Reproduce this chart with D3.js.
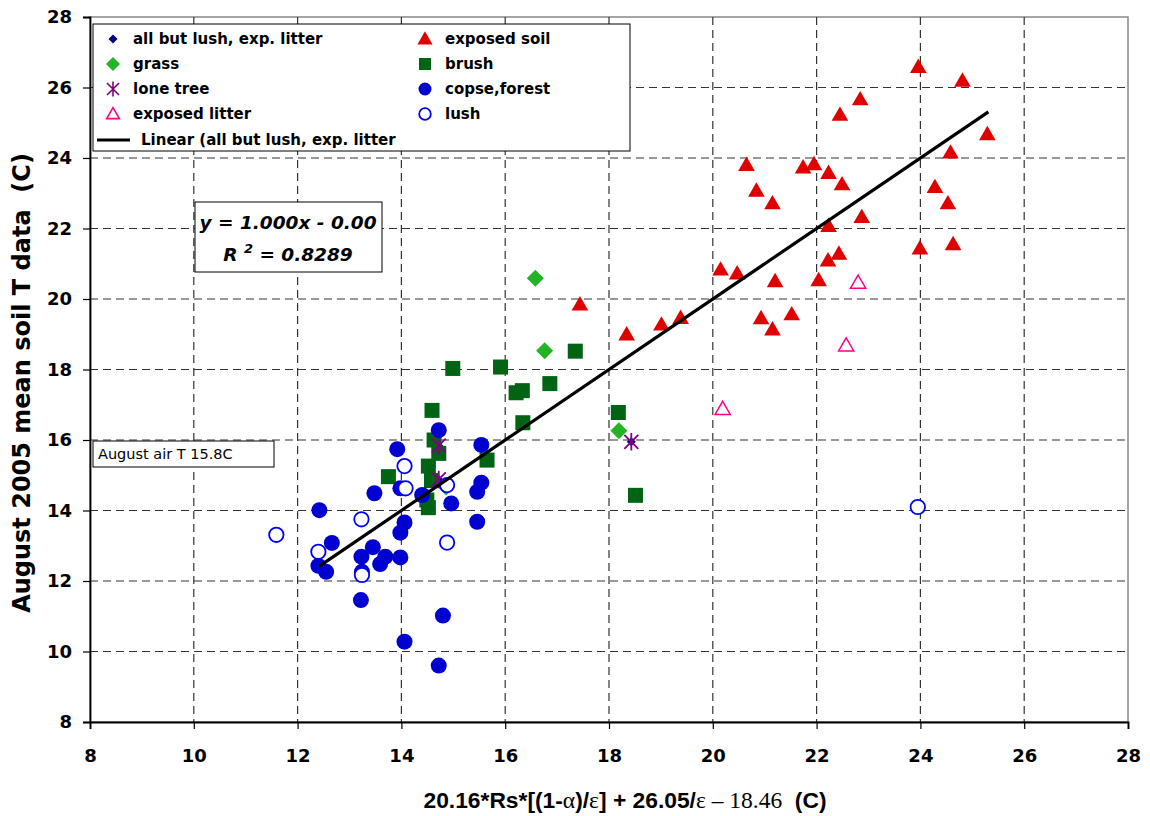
<!DOCTYPE html>
<html><head><meta charset="utf-8">
<script src="https://cdn.jsdelivr.net/npm/d3@7"></script>
<style>body{margin:0;background:#fff}</style></head>
<body>
<script>
// ---------- data ----------
const xTicks = [8,10,12,14,16,18,20,22,24,26,28];
const yTicks = [8,10,12,14,16,18,20,22,24,26,28];

const exposedSoil = [
 [23.96,26.55],[24.81,26.16],[22.84,25.63],[22.45,25.19],[25.29,24.64],[24.58,24.12],
 [20.65,23.77],[21.74,23.70],[21.95,23.79],[22.23,23.54],[22.49,23.22],[20.84,23.04],
 [21.15,22.68],[24.28,23.14],[24.53,22.68],[22.87,22.29],[22.23,22.04],[23.99,21.40],
 [24.63,21.52],[22.43,21.25],[22.22,21.06],[20.15,20.80],[20.47,20.69],[21.20,20.47],
 [22.04,20.50],[20.93,19.42],[21.15,19.10],[21.52,19.53],[19.38,19.43],[17.44,19.81],
 [18.34,18.96],[19.01,19.24]
];
const grass = [[16.58,20.59],[16.76,18.53],[18.19,16.26],[14.86,14.67]];
const brush = [
 [14.99,18.03],[15.91,18.07],[17.35,18.52],[16.21,17.34],[16.33,17.40],[16.86,17.60],
 [16.34,16.49],[18.18,16.78],[14.59,16.84],[15.65,15.43],[13.75,14.96],[14.52,15.26],
 [18.51,14.43],[14.63,16.00],[14.72,15.62],[14.58,14.85],[14.49,14.30],[14.52,14.08]
];
const loneTree = [[18.43,15.95],[14.72,15.84],[14.72,14.88]];
const copse = [
 [14.72,16.28],[13.92,15.74],[15.54,15.86],[13.98,14.63],[13.48,14.49],[14.40,14.44],
 [12.42,14.01],[14.96,14.20],[15.54,14.79],[15.46,14.53],[15.46,13.68],[14.06,13.66],
 [13.98,13.37],[12.66,13.08],[13.45,12.96],[13.23,12.69],[13.69,12.69],[13.59,12.48],
 [13.98,12.67],[12.40,12.43],[12.55,12.26],[13.24,12.26],[13.22,11.46],[14.80,11.02],
 [14.06,10.28],[14.72,9.60]
];
const exposedLitter = [[22.80,20.43],[22.57,18.65],[20.19,16.85]];
const lush = [
 [11.59,13.31],[12.40,12.83],[13.23,13.75],[13.24,12.17],[14.88,13.09],[14.06,15.26],
 [14.08,14.63],[14.88,14.72],[23.95,14.10]
];
const allButLush = [].concat(exposedSoil, grass, brush, loneTree, copse);
const trendX = [12.42, 25.31];
const slope = 1.000, intercept = 0.00;

// ---------- chart ----------
const W = 1150, H = 816;
const svg = d3.select("body").append("svg").attr("width", W).attr("height", H)
  .style("background", "#fff");
const x = d3.scaleLinear().domain([8,28]).range([90,1128]);
const y = d3.scaleLinear().domain([8,28]).range([722,17]);

const C = {soil:"#e00000", grass:"#22b422", brush:"#006414", tree:"#800080",
           copse:"#0000d0", litter:"#ff0088", lush:"#0000ff", allbut:"#000080"};

// plot border
svg.append("rect").attr("x", x(8)).attr("y", y(28)).attr("width", x(28)-x(8))
  .attr("height", y(8)-y(28)).attr("fill","none").attr("stroke","#888").attr("stroke-width",1.5);

// grid
const grid = svg.append("g").attr("stroke","#333").attr("stroke-width",1.2).attr("stroke-dasharray","8,5");
grid.selectAll("line.v").data(xTicks.filter(t=>t>8 && t<28)).join("line")
  .attr("x1",d=>x(d)).attr("x2",d=>x(d)).attr("y1",y(28)).attr("y2",y(8));
grid.selectAll("line.h").data(yTicks.filter(t=>t>8 && t<28)).join("line")
  .attr("y1",d=>y(d)).attr("y2",d=>y(d)).attr("x1",x(8)).attr("x2",x(28));

// axes
const fontB = "'DejaVu Sans', Verdana, sans-serif";
const xAxis = svg.append("g").attr("transform",`translate(0,${y(8)})`)
  .call(d3.axisBottom(x).tickValues(xTicks).tickSize(7).tickPadding(20).tickFormat(d3.format("d")));
const yAxis = svg.append("g").attr("transform",`translate(${x(8)},0)`)
  .call(d3.axisLeft(y).tickValues(yTicks).tickSize(7).tickPadding(11).tickFormat(d3.format("d")));
[xAxis,yAxis].forEach(a=>{
  a.select(".domain").attr("stroke","#000").attr("stroke-width",1.8);
  a.selectAll(".tick line").attr("stroke","#000").attr("stroke-width",1.2);
  a.selectAll(".tick text").attr("font-family",fontB).attr("font-weight","bold")
    .attr("font-size",18).attr("fill","#000");
});

// markers
const gM = svg.append("g");
const diamond = s => `M0,${-s}L${s},0L0,${s}L${-s},0Z`;
gM.selectAll("path.ab").data(allButLush).join("path")
  .attr("d", diamond(4.5)).attr("fill",C.allbut)
  .attr("transform",d=>`translate(${x(d[0])},${y(d[1])})`);
const tri = d3.symbol().type(d3.symbolTriangle).size(120);
gM.selectAll("path.soil").data(exposedSoil).join("path")
  .attr("d", tri()).attr("fill",C.soil)
  .attr("transform",d=>`translate(${x(d[0])},${y(d[1])})`);
gM.selectAll("path.grass").data(grass).join("path")
  .attr("d", diamond(8.5)).attr("fill",C.grass)
  .attr("transform",d=>`translate(${x(d[0])},${y(d[1])})`);
gM.selectAll("rect.brush").data(brush).join("rect")
  .attr("x",d=>x(d[0])-7.5).attr("y",d=>y(d[1])-7.5).attr("width",15).attr("height",15)
  .attr("fill",C.brush);
const star = s => `M${-s},${-s}L${s},${s}M${-s},${s}L${s},${-s}M0,${-s*1.25}L0,${s*1.25}`;
gM.selectAll("path.tree").data(loneTree).join("path")
  .attr("d", star(7)).attr("stroke",C.tree).attr("stroke-width",1.8).attr("fill","none")
  .attr("transform",d=>`translate(${x(d[0])},${y(d[1])})`);
gM.selectAll("circle.copse").data(copse).join("circle")
  .attr("cx",d=>x(d[0])).attr("cy",d=>y(d[1])).attr("r",8).attr("fill",C.copse);
const triO = d3.symbol().type(d3.symbolTriangle).size(100);
gM.selectAll("path.litter").data(exposedLitter).join("path")
  .attr("d", triO()).attr("fill","#fff").attr("stroke",C.litter).attr("stroke-width",1.5)
  .attr("transform",d=>`translate(${x(d[0])},${y(d[1])})`);
gM.selectAll("circle.lush").data(lush).join("circle")
  .attr("cx",d=>x(d[0])).attr("cy",d=>y(d[1])).attr("r",7.2)
  .attr("fill","#fff").attr("stroke",C.lush).attr("stroke-width",1.8);

// trend line
svg.append("line")
  .attr("x1",x(trendX[0])).attr("y1",y(slope*trendX[0]+intercept))
  .attr("x2",x(trendX[1])).attr("y2",y(slope*trendX[1]+intercept))
  .attr("stroke","#000").attr("stroke-width",3.2);

// axis titles
svg.append("text").attr("transform",`translate(30,383) rotate(-90)`).attr("text-anchor","middle")
  .attr("font-family",fontB).attr("font-weight","bold").attr("font-size",24)
  .attr("xml:space","preserve").text("August 2005 mean soil T data  (C)");
const fontA = "'Liberation Sans', Arial, sans-serif";
const serif = "'Liberation Serif', 'Times New Roman', serif";
const xt = svg.append("text").attr("x",625).attr("y",808).attr("text-anchor","middle")
  .attr("font-family",fontA).attr("font-weight","bold").attr("font-size",22.8)
  .attr("xml:space","preserve");
const seg = (t, s) => { const sp = xt.append("tspan").text(t); if (s) sp.attr("font-family",serif).attr("font-weight","normal").attr("font-size",23.5); };
seg("20.16*Rs*[(1-"); seg("α",1); seg(")/"); seg("ε",1); seg("] + 26.05/"); seg("ε",1);
seg(" – 18.46",1); seg("  (C)");

// legend
const lg = svg.append("g");
lg.append("rect").attr("x",93).attr("y",24).attr("width",537).attr("height",127)
  .attr("fill","#fff").attr("stroke","#000").attr("stroke-width",1);
const legendLeft = ["all but lush, exp. litter","grass","lone tree","exposed litter"];
const legendRight = ["exposed soil","brush","copse,forest","lush"];
const rowsY = [39,64,89,114];
const ltxt = (tx,ty,s)=>lg.append("text").attr("x",tx).attr("y",ty+5).attr("font-family",fontB)
  .attr("font-weight","bold").attr("font-size",15).text(s);
legendLeft.forEach((s,i)=>ltxt(133,rowsY[i],s));
legendRight.forEach((s,i)=>ltxt(445,rowsY[i],s));
lg.append("path").attr("d",diamond(4.5)).attr("fill",C.allbut).attr("transform",`translate(113,${rowsY[0]})`);
lg.append("path").attr("d",diamond(7)).attr("fill",C.grass).attr("transform",`translate(113,${rowsY[1]})`);
lg.append("path").attr("d",star(6)).attr("stroke",C.tree).attr("stroke-width",1.6).attr("fill","none").attr("transform",`translate(113,${rowsY[2]})`);
lg.append("path").attr("d",d3.symbol().type(d3.symbolTriangle).size(70)()).attr("fill","#fff").attr("stroke",C.litter).attr("stroke-width",1.6).attr("transform",`translate(113,${rowsY[3]+1})`);
lg.append("path").attr("d",d3.symbol().type(d3.symbolTriangle).size(100)()).attr("fill",C.soil).attr("transform",`translate(425,${rowsY[0]+1})`);
lg.append("rect").attr("x",419).attr("y",rowsY[1]-6).attr("width",12).attr("height",12).attr("fill",C.brush);
lg.append("circle").attr("cx",425).attr("cy",rowsY[2]).attr("r",6.5).attr("fill",C.copse);
lg.append("circle").attr("cx",425).attr("cy",rowsY[3]).attr("r",5.8).attr("fill","#fff").attr("stroke",C.lush).attr("stroke-width",1.8);
lg.append("line").attr("x1",97).attr("x2",130).attr("y1",140).attr("y2",140).attr("stroke","#000").attr("stroke-width",3.2);
ltxt(141,140,"Linear (all but lush, exp. litter");

// equation box
svg.append("rect").attr("x",195).attr("y",202).attr("width",187).attr("height",70)
  .attr("fill","#fff").attr("stroke","#000").attr("stroke-width",1);
svg.append("text").attr("x",288).attr("y",229).attr("text-anchor","middle")
  .attr("font-family",fontB).attr("font-weight","bold").attr("font-style","italic").attr("font-size",18.5)
  .text("y = 1.000x - 0.00");
const r2 = svg.append("text").attr("x",288).attr("y",261).attr("text-anchor","middle")
  .attr("font-family",fontB).attr("font-weight","bold").attr("font-style","italic").attr("font-size",18.5)
  .attr("xml:space","preserve");
r2.append("tspan").text("R ");
r2.append("tspan").attr("dy",-8).attr("font-size",13).text("2");
r2.append("tspan").attr("dy",8).text(" = 0.8289");

// air T box
svg.append("rect").attr("x",93).attr("y",441).attr("width",181).attr("height",26)
  .attr("fill","#fff").attr("stroke","#000").attr("stroke-width",1);
svg.append("text").attr("x",98).attr("y",459).attr("font-family",fontB).attr("font-size",14.5)
  .text("August air T 15.8C");
</script>
</body></html>
